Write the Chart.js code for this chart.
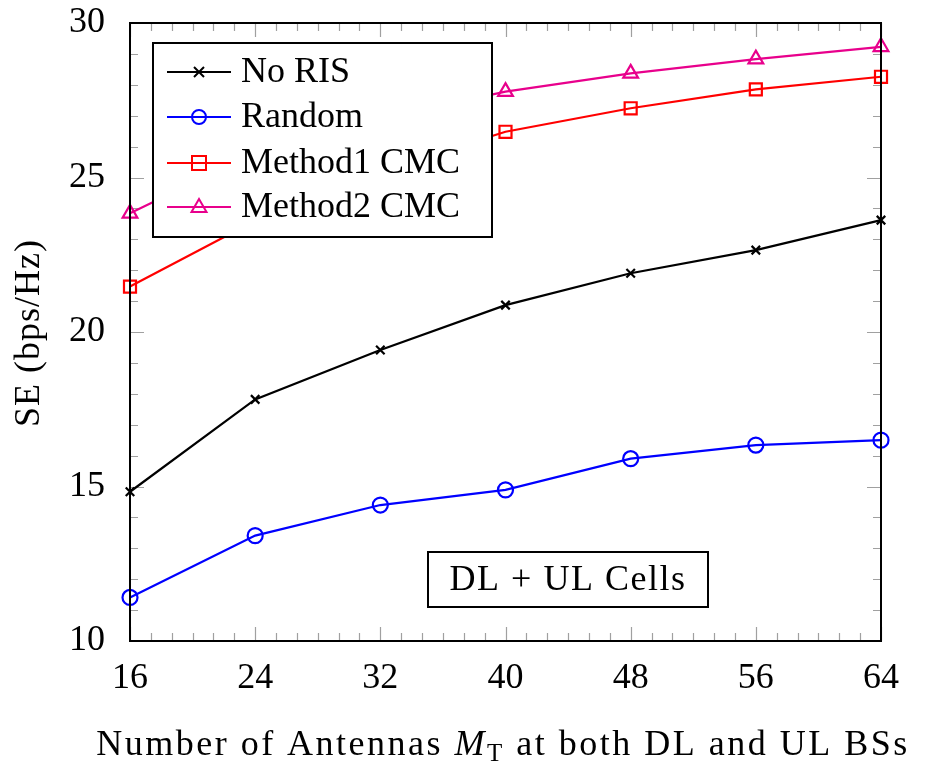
<!DOCTYPE html>
<html>
<head>
<meta charset="utf-8">
<script src="https://cdn.jsdelivr.net/npm/chart.js@4.4.1/dist/chart.umd.min.js"></script>
<style>
  html, body { margin: 0; padding: 0; background: #fff; }
  #wrap { width: 931px; height: 765px; }
</style>
</head>
<body>
<div id="wrap"><canvas id="grafica" width="931" height="765"></canvas></div>
<script>
// dades llegides de la figura
var antenes = [16, 24, 32, 40, 48, 56, 64];
var noRIS = [14.83, 17.82, 19.42, 20.87, 21.9, 22.65, 23.62];
var aleatori = [11.41, 13.41, 14.40, 14.89, 15.90, 16.34, 16.50];
var metode1 = [21.47, 23.6, 25.2, 26.48, 27.24, 27.85, 28.26];
var metode2 = [23.84, 25.8, 26.9, 27.78, 28.37, 28.83, 29.23];
var etiquetes = ['No RIS', 'Random', 'Method1 CMC', 'Method2 CMC'];
var ticksX = [16, 24, 32, 40, 48, 56, 64];
var ticksY = [10, 15, 20, 25, 30];

var FONT = '"Liberation Serif", "DejaVu Serif", serif';
var MIDA = 36;
var MAGENTA = 'rgb(232, 0, 140)';

function punts(valors) {
    return valors.map(function (v, i) { return { x: antenes[i], y: v }; });
}

// dibuixa un marcador petit (per la llegenda)
function marcador(ctx, tipus, x, y, color) {
    ctx.save();
    ctx.strokeStyle = color;
    ctx.lineWidth = 2;
    ctx.beginPath();
    if (tipus == 'crossRot') {
        ctx.moveTo(x - 5, y - 5); ctx.lineTo(x + 5, y + 5);
        ctx.moveTo(x + 5, y - 5); ctx.lineTo(x - 5, y + 5);
    } else if (tipus == 'circle') {
        ctx.arc(x, y, 7, 0, Math.PI * 2);
    } else if (tipus == 'rect') {
        ctx.rect(x - 7, y - 7, 14, 14);
    } else if (tipus == 'triangle') {
        ctx.moveTo(x, y - 8); ctx.lineTo(x + 7.5, y + 5); ctx.lineTo(x - 7.5, y + 5); ctx.closePath();
    }
    ctx.stroke();
    ctx.restore();
}

var decoracio = {
    id: 'decoracio',
    beforeDatasetsDraw: function (chart) {
        var ctx = chart.ctx, a = chart.chartArea;
        var sx = chart.scales.x, sy = chart.scales.y;
        ctx.save();
        ctx.strokeStyle = '#a0a0a0';
        ctx.lineWidth = 1.2;
        ctx.beginPath();
        // ticks x (majors i menors)
        for (var v = 16; v <= 64.001; v += 8 / 6) {
            var px = Math.round(sx.getPixelForValue(v)) + 0.5;
            var major = Math.abs((v - 16) / 8 - Math.round((v - 16) / 8)) < 0.01;
            var l = major ? 14 : 8;
            ctx.moveTo(px, a.bottom); ctx.lineTo(px, a.bottom - l);
            ctx.moveTo(px, a.top); ctx.lineTo(px, a.top + l);
        }
        // ticks y
        for (var w = 10; w <= 30; w++) {
            var py = Math.round(sy.getPixelForValue(w)) + 0.5;
            var l2 = (w % 5 == 0) ? 14 : 8;
            ctx.moveTo(a.left, py); ctx.lineTo(a.left + l2, py);
            ctx.moveTo(a.right, py); ctx.lineTo(a.right - l2, py);
        }
        ctx.stroke();
        ctx.restore();
    },
    afterDatasetsDraw: function (chart) {
        var ctx = chart.ctx, a = chart.chartArea;
        ctx.save();
        // marc
        ctx.strokeStyle = '#000';
        ctx.lineWidth = 2;
        ctx.strokeRect(a.left, a.top, a.right - a.left, a.bottom - a.top);

        // llegenda
        ctx.fillStyle = '#fff';
        ctx.fillRect(153, 43, 339, 194);
        ctx.strokeRect(153, 43, 339, 194);
        var files = [72, 117, 163, 207];
        ctx.font = MIDA + 'px ' + FONT;
        ctx.textBaseline = 'middle';
        chart.data.datasets.forEach(function (ds, i) {
            ctx.strokeStyle = ds.borderColor;
            ctx.lineWidth = 2;
            ctx.beginPath();
            ctx.moveTo(167, files[i]); ctx.lineTo(231, files[i]);
            ctx.stroke();
            marcador(ctx, ds.pointStyle, 199, files[i], ds.borderColor);
            ctx.fillStyle = '#000';
            ctx.fillText(ds.label, 241, files[i] + 1);
        });

        // requadre de text
        ctx.fillStyle = '#fff';
        ctx.fillRect(428, 552, 280, 55);
        ctx.strokeStyle = '#000';
        ctx.strokeRect(428, 552, 280, 55);
        ctx.fillStyle = '#000';
        ctx.textAlign = 'center';
        ctx.letterSpacing = '1.5px';
        ctx.fillText('DL + UL Cells', 568, 581);
        ctx.letterSpacing = '0px';

        // títol eix y
        ctx.save();
        ctx.translate(30, 333);
        ctx.rotate(-Math.PI / 2);
        ctx.letterSpacing = '1px';
        ctx.fillText('SE (bps/Hz)', 0, 0);
        ctx.restore();

        // títol eix x amb M cursiva i subíndex
        var parts = [
            { t: 'Number of Antennas ', f: MIDA + 'px ' + FONT, dy: 0 },
            { t: 'M', f: 'italic ' + MIDA + 'px ' + FONT, dy: 0 },
            { t: 'T', f: '25px ' + FONT, dy: 6 },
            { t: ' at both DL and UL BSs', f: MIDA + 'px ' + FONT, dy: 0 }
        ];
        ctx.letterSpacing = '2.5px';
        var total = 0;
        parts.forEach(function (p) { ctx.font = p.f; p.w = ctx.measureText(p.t).width; total += p.w; });
        var x0 = 503 - total / 2;
        ctx.textAlign = 'left';
        ctx.textBaseline = 'alphabetic';
        parts.forEach(function (p) {
            ctx.font = p.f;
            ctx.fillText(p.t, x0, 755 + p.dy);
            x0 += p.w;
        });
        ctx.restore();
    }
};

var ctx = document.getElementById('grafica');
var grafica = new Chart(ctx, {
    type: 'line',
    data: {
        datasets: [{
            label: etiquetes[0],
            data: punts(noRIS),
            borderColor: '#000',
            pointStyle: 'crossRot',
            pointRadius: 6
        }, {
            label: etiquetes[1],
            data: punts(aleatori),
            borderColor: '#0000ff',
            pointStyle: 'circle',
            pointRadius: 7.5
        }, {
            label: etiquetes[2],
            data: punts(metode1),
            borderColor: '#ff0000',
            pointStyle: 'rect',
            pointRadius: 8.5
        }, {
            label: etiquetes[3],
            data: punts(metode2),
            borderColor: MAGENTA,
            pointStyle: 'triangle',
            pointRadius: 8.5
        }].map(function (d) {
            d.borderWidth = 2.2;
            d.pointBorderWidth = 2.2;
            d.pointBorderColor = d.borderColor;
            d.pointBackgroundColor = 'rgba(0,0,0,0)';
            d.pointHoverRadius = d.pointRadius;
            d.tension = 0;
            d.clip = false;
            return d;
        })
    },
    options: {
        responsive: false,
        animation: false,
        layout: { padding: { left: 0, top: 23, right: 50, bottom: 0 } },
        plugins: {
            legend: { display: false },
            tooltip: { enabled: false }
        },
        scales: {
            x: {
                type: 'linear',
                min: 16,
                max: 64,
                afterBuildTicks: function (s) { s.ticks = ticksX.map(function (v) { return { value: v }; }); },
                ticks: { color: '#000', padding: 8, font: { family: FONT, size: MIDA } },
                grid: { display: false },
                border: { display: false },
                afterFit: function (s) { s.height = 124; s.paddingLeft = 0; s.paddingRight = 0; }
            },
            y: {
                min: 10,
                max: 30,
                afterBuildTicks: function (s) { s.ticks = ticksY.map(function (v) { return { value: v }; }); },
                ticks: { color: '#000', padding: 17, font: { family: FONT, size: MIDA } },
                grid: { display: false },
                border: { display: false },
                afterFit: function (s) { s.width = 130; s.paddingTop = 0; s.paddingBottom = 0; }
            }
        }
    },
    plugins: [decoracio]
});
</script>
</body>
</html>
